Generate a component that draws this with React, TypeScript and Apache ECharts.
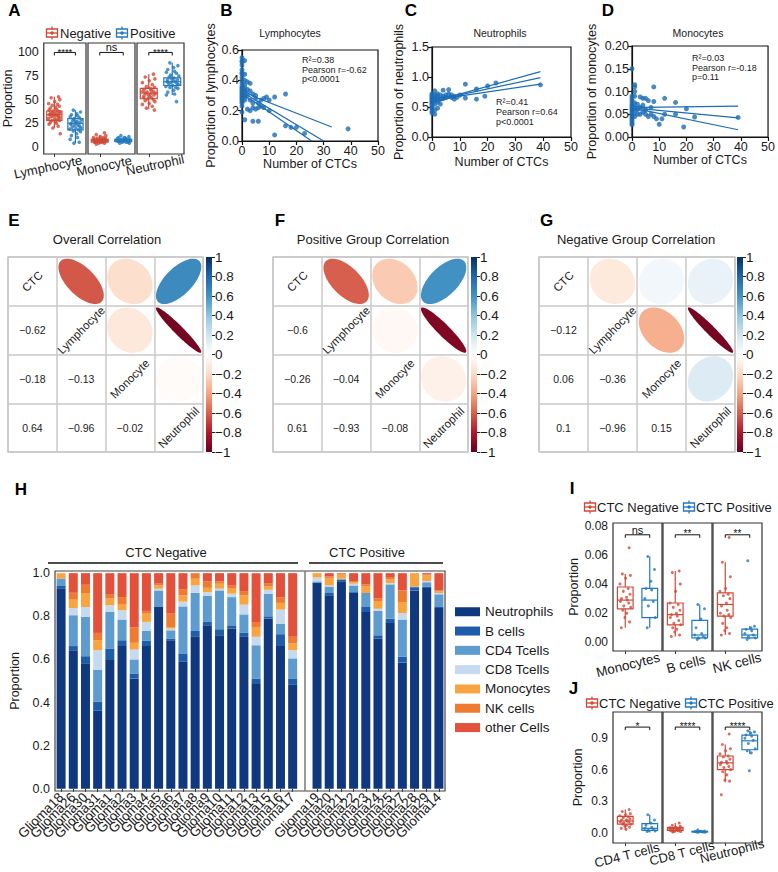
import React, { useEffect, useRef } from "react";
import * as echarts from "echarts";

const FONT = "'Liberation Sans', Arial, Helvetica, sans-serif";
const RED = "#D14836";
const BLUE = "#2279BE";
const DOT = "#1C6DB5";
const INK = "#1a1a1a";

// ---------- Panel A ----------
const A_GROUPS = ["Lymphocyte", "Monocyte", "Neutrophil"];
const A_TICK_STEP = 25;
const A_SIG = ["****", "ns", "****"];
const A_SIG_Y = 100;
const A_STATS_NEG = [[20, 28, 34, 38, 53], [3, 5, 6.5, 8, 12], [40, 51, 57, 62, 77]];
const A_STATS_POS = [[4, 18, 25, 30, 39], [4, 5.5, 7, 8, 11], [55, 65, 69, 73, 89]];
const A_LYM_NEG = [53, 52, 50, 48, 46, 45, 44, 43, 42, 41, 40, 39, 38, 38, 37, 36, 36, 35, 35, 35, 34, 34, 33, 33, 32, 32, 31, 30, 30, 29, 28, 28, 27, 26, 25, 24, 22, 20, 14];
const A_LYM_POS = [39, 37, 35, 34, 33, 32, 31, 30, 29, 28, 27, 27, 26, 25, 25, 24, 23, 23, 22, 21, 20, 20, 19, 18, 17, 16, 14, 12, 10, 8, 5, 4];
const A_MON_NEG = [15, 13, 12, 11, 10, 10, 9, 9, 8, 8, 8, 7, 7, 7, 7, 6, 6, 6, 6, 5, 5, 5, 5, 4, 4, 3];
const A_MON_POS = [12, 11, 10, 10, 9, 9, 8, 8, 8, 7, 7, 7, 6, 6, 6, 6, 5, 5, 5, 4, 4];
const A_NEU_NEG = [77, 74, 72, 70, 68, 66, 64, 63, 62, 61, 60, 59, 59, 58, 57, 57, 56, 55, 55, 54, 53, 52, 52, 51, 50, 49, 48, 46, 45, 43, 41, 39];
const A_NEU_POS = [89, 86, 84, 82, 80, 79, 78, 76, 75, 74, 73, 72, 71, 71, 70, 69, 69, 68, 67, 67, 66, 65, 64, 63, 63, 62, 60, 58, 56, 55, 48];
const A_PTS_NEG = [A_LYM_NEG, A_MON_NEG, A_NEU_NEG];
const A_PTS_POS = [A_LYM_POS, A_MON_POS, A_NEU_POS];

// ---------- Panels B, C, D ----------
const B_POINTS = [[0, 0.55], [0, 0.53], [0, 0.52], [0, 0.5], [0, 0.47], [0, 0.45], [0, 0.44], [0, 0.42], [0, 0.4], [0, 0.38], [0, 0.36], [0, 0.35], [0, 0.34], [0, 0.33], [0, 0.32], [0, 0.31], [0, 0.3], [0, 0.29], [0, 0.28], [0, 0.27], [0, 0.26], [0, 0.25], [0, 0.23], [0, 0.19],
  [1, 0.53], [1, 0.44], [1, 0.4], [1, 0.37], [1, 0.35], [1, 0.33], [1, 0.31], [1, 0.29], [1, 0.27], [1, 0.14], [2, 0.39], [2, 0.34], [2, 0.3], [2, 0.21], [3, 0.38], [3, 0.33], [3, 0.27], [3, 0.2],
  [4, 0.31], [4, 0.25], [4, 0.22], [4, 0.13], [5, 0.3], [5, 0.28], [5, 0.21], [6, 0.25], [6, 0.22], [6, 0.13], [7, 0.27], [7, 0.23], [8, 0.28], [8, 0.22], [9, 0.29], [10, 0.27], [10, 0.2],
  [12, 0.29], [12, 0.04], [16, 0.31], [16, 0.1], [18, 0.09], [20, 0.09], [23, 0.05], [39, 0.08]];
const B_FIT = [[[0, 0.345], [4, 0.295], [33, 0.092]], [[0, 0.323], [4, 0.28], [30, 0]], [[0, 0.3], [4, 0.265], [25.6, 0]]];
const B_STATS = ["R\u00b2=0.38", "Pearson r=-0.62", "p<0.0001"];

const C_POINTS = [[0, 0.4], [0, 0.43], [0, 0.47], [0, 0.5], [0, 0.53], [0, 0.56], [0, 0.58], [0, 0.6], [0, 0.62], [0, 0.64], [0, 0.66], [0, 0.68], [0, 0.7], [0, 0.72],
  [1, 0.38], [1, 0.45], [1, 0.55], [1, 0.62], [1, 0.66], [1, 0.7], [1, 0.77], [2, 0.48], [2, 0.58], [2, 0.64], [2, 0.68], [2, 0.72], [3, 0.55], [3, 0.63], [3, 0.7],
  [4, 0.78], [4, 0.68], [4, 0.64], [5, 0.7], [5, 0.66], [6, 0.79], [6, 0.72], [7, 0.66], [7, 0.7], [8, 0.63], [8, 0.68], [9, 0.66], [10, 0.7],
  [12, 0.88], [12, 0.65], [16, 0.8], [16, 0.63], [19, 0.68], [20, 0.85], [23, 0.9], [39, 0.87]];
const C_FIT = [[[0, 0.63], [8, 0.69], [39, 1.09]], [[0, 0.6], [8, 0.68], [39, 0.99]], [[0, 0.57], [8, 0.67], [39, 0.88]]];
const C_STATS = ["R\u00b2=0.41", "Pearson r=0.64", "p<0.0001"];

const D_POINTS = [[0, 0.15], [0, 0.09], [0, 0.085], [0, 0.08], [0, 0.075], [0, 0.07], [0, 0.066], [0, 0.062], [0, 0.058], [0, 0.055], [0, 0.05], [0, 0.046], [0, 0.042], [0, 0.038], [0, 0.034], [0, 0.03], [0, 0.027],
  [1, 0.115], [1, 0.11], [1, 0.1], [1, 0.09], [1, 0.075], [1, 0.065], [1, 0.055], [1, 0.045], [2, 0.072], [2, 0.06], [2, 0.05], [3, 0.088], [3, 0.065], [3, 0.05],
  [4, 0.085], [4, 0.07], [4, 0.055], [5, 0.085], [5, 0.06], [5, 0.05], [6, 0.08], [6, 0.045], [7, 0.065], [7, 0.05], [8, 0.11], [8, 0.078], [8, 0.045],
  [9, 0.04], [10, 0.028], [11, 0.04], [12, 0.085], [12, 0.05], [16, 0.076], [16, 0.05], [19, 0.022], [20, 0.062], [23, 0.044], [39, 0.043]];
const D_FIT = [[[0, 0.068], [4, 0.065], [39, 0.068]], [[0, 0.064], [4, 0.062], [39, 0.042]], [[0, 0.06], [4, 0.059], [39, 0.016]]];
const D_STATS = ["R\u00b2=0.03", "Pearson r=-0.18", "p=0.11"];

// ---------- Panels E, F, G ----------
const VARS = ["CTC", "Lymphocyte", "Monocyte", "Neutrophil"];
// pair order: CTC-Lym, CTC-Mono, CTC-Neu, Lym-Mono, Lym-Neu, Mono-Neu
const E_R = [-0.62, -0.18, 0.64, -0.13, -0.96, -0.02];
const F_R = [-0.6, -0.26, 0.61, -0.04, -0.93, -0.08];
const G_R = [-0.12, 0.06, 0.1, -0.36, -0.96, 0.15];
const RDBU = [[-1, "#67001F"], [-0.8, "#B2182B"], [-0.6, "#D6604D"], [-0.4, "#F4A582"], [-0.2, "#FDDBC7"], [0, "#FFFFFF"], [0.2, "#D1E5F0"], [0.4, "#92C5DE"], [0.6, "#4393C3"], [0.8, "#2166AC"], [1, "#053061"]] as [number, string][];

// ---------- Panel H ----------
const H_NEG_NAMES = ["Glioma18", "Glioma26", "Glioma30", "Glioma31", "Glioma1", "Glioma2", "Glioma3", "Glioma4", "Glioma5", "Glioma6", "Glioma7", "Glioma8", "Glioma9", "Glioma10", "Glioma11", "Glioma12", "Glioma13", "Glioma15", "Glioma16", "Glioma17"];
const H_POS_NAMES = ["Glioma19", "Glioma20", "Glioma21", "Glioma22", "Glioma23", "Glioma24", "Glioma25", "Glioma27", "Glioma28", "Glioma29", "Glioma14"];
const H_TYPES = ["Neutrophils", "B cells", "CD4 Tcells", "CD8 Tcells", "Monocytes", "NK cells", "other Cells"];
const H_COLORS = ["#10387F", "#1F5DAA", "#5E9CD0", "#C6DAEF", "#F9A440", "#EE7B31", "#E4513B"];
const H_NEUT = [0.93, 0.643, 0.582, 0.362, 0.597, 0.662, 0.512, 0.662, 0.843, 0.689, 0.589, 0.708, 0.758, 0.712, 0.743, 0.708, 0.486, 0.789, 0.662, 0.482, 0.954, 0.897, 0.963, 0.908, 0.82, 0.697, 0.769, 0.585, 0.92, 0.931, 0.838];
const H_BCELL = [0.01, 0.019, 0.033, 0.043, 0.054, 0.027, 0.023, 0.024, 0.003, 0.008, 0.039, 0.024, 0.016, 0.028, 0.015, 0.015, 0.026, 0.011, 0.055, 0.03, 0.003, 0.011, 0.008, 0.004, 0.026, 0.015, 0.02, 0.027, 0.015, 0.007, 0.008];
const H_CD4 = [0.035, 0.143, 0.182, 0.146, 0.169, 0.096, 0.065, 0.046, 0.074, 0.038, 0.218, 0.177, 0.12, 0.18, 0.131, 0.086, 0.154, 0.105, 0.049, 0.093, 0.005, 0.03, 0.001, 0.031, 0.062, 0.113, 0.159, 0.173, 0.003, 0.02, 0.056];
const H_CD8 = [0, 0.033, 0.046, 0.092, 0.031, 0.043, 0.046, 0.042, 0.008, 0.008, 0.022, 0.034, 0.018, 0.008, 0.016, 0.045, 0.039, 0.018, 0.065, 0.038, 0.018, 0.005, 0.002, 0.008, 0, 0.01, 0.006, 0.03, 0, 0.005, 0.006];
const H_MONO = [0.025, 0.039, 0.065, 0.046, 0.031, 0.026, 0.031, 0.038, 0.015, 0.007, 0.029, 0.031, 0.02, 0.023, 0.023, 0.043, 0.045, 0.015, 0.031, 0.031, 0.02, 0.035, 0.023, 0.007, 0.03, 0.036, 0.017, 0.051, 0.062, 0.026, 0.009];
const H_NK = [0, 0.032, 0.038, 0.034, 0.018, 0.035, 0.071, 0.013, 0.008, 0.062, 0.029, 0.026, 0.031, 0.011, 0.014, 0.02, 0.024, 0.016, 0.027, 0.031, 0, 0.007, 0, 0.005, 0.01, 0.011, 0.011, 0.054, 0, 0.005, 0.003];
const H_OTHER = [0, 0.091, 0.054, 0.277, 0.1, 0.111, 0.252, 0.175, 0.049, 0.188, 0.074, 0, 0.037, 0.038, 0.058, 0.083, 0.226, 0.046, 0.111, 0.295, 0, 0.015, 0.003, 0.037, 0.052, 0.118, 0.018, 0.08, 0, 0.006, 0.08];
const H_VALUES = [H_NEUT, H_BCELL, H_CD4, H_CD8, H_MONO, H_NK, H_OTHER];
const H_TICK_STEP = 0.2;

// ---------- Panel I ----------
const I_GROUPS = ["Monocytes", "B cells", "NK cells"];
const I_TICK_STEP = 0.02;
const I_SIG = ["ns", "**", "**"];
const I_SIG_Y = 0.0739;
const I_STATS_NEG = [[0.01, 0.023, 0.029, 0.038, 0.047], [0.004, 0.012, 0.019, 0.027, 0.049], [0.005, 0.018, 0.026, 0.034, 0.055]];
const I_STATS_POS = [[0.01, 0.017, 0.029, 0.037, 0.059], [0.002, 0.003, 0.005, 0.015, 0.026], [0.002, 0.003, 0.005, 0.009, 0.011]];
const I_PTS_NEG = [
  [0.065, 0.047, 0.046, 0.044, 0.04, 0.037, 0.035, 0.033, 0.031, 0.03, 0.029, 0.028, 0.027, 0.025, 0.024, 0.022, 0.02, 0.017, 0.014, 0.01],
  [0.049, 0.048, 0.04, 0.035, 0.027, 0.026, 0.024, 0.022, 0.02, 0.019, 0.018, 0.017, 0.015, 0.013, 0.012, 0.01, 0.009, 0.007, 0.005, 0.004],
  [0.072, 0.055, 0.045, 0.037, 0.035, 0.033, 0.032, 0.03, 0.027, 0.025, 0.022, 0.02, 0.019, 0.018, 0.017, 0.013, 0.01, 0.008, 0.006, 0.005]];
const I_PTS_POS = [
  [0.059, 0.05, 0.042, 0.037, 0.036, 0.03, 0.028, 0.025, 0.017, 0.01],
  [0.026, 0.023, 0.016, 0.01, 0.006, 0.005, 0.004, 0.003, 0.003, 0.002],
  [0.056, 0.011, 0.01, 0.009, 0.008, 0.006, 0.005, 0.004, 0.003, 0.002]];

// ---------- Panel J ----------
const J_GROUPS = ["CD4 T cells", "CD8 T cells", "Neutrophils"];
const J_TICK_STEP = 0.3;
const J_SIG = ["*", "****", "****"];
const J_SIG_Y = 1.006;
const J_STATS_NEG = [[0.03, 0.08, 0.11, 0.155, 0.22], [0, 0.02, 0.035, 0.05, 0.09], [0.48, 0.6, 0.665, 0.73, 0.84]];
const J_STATS_POS = [[0, 0.02, 0.04, 0.085, 0.17], [0, 0.005, 0.008, 0.012, 0.025], [0.75, 0.79, 0.875, 0.93, 0.97]];
const J_PTS_NEG = [
  [0.22, 0.2, 0.18, 0.17, 0.16, 0.15, 0.14, 0.13, 0.12, 0.12, 0.11, 0.1, 0.1, 0.09, 0.08, 0.08, 0.07, 0.06, 0.05, 0.04, 0.03],
  [0.09, 0.07, 0.06, 0.05, 0.045, 0.04, 0.035, 0.03, 0.03, 0.025, 0.02, 0.02, 0.015, 0.01, 0.01, 0.005],
  [0.94, 0.84, 0.8, 0.78, 0.75, 0.73, 0.72, 0.7, 0.68, 0.67, 0.66, 0.65, 0.63, 0.62, 0.6, 0.58, 0.55, 0.5, 0.49, 0.36]];
const J_PTS_POS = [
  [0.17, 0.12, 0.09, 0.07, 0.05, 0.04, 0.03, 0.02, 0.015, 0.01],
  [0.025, 0.015, 0.012, 0.01, 0.008, 0.007, 0.005, 0.004, 0.003, 0.002],
  [0.97, 0.96, 0.95, 0.93, 0.92, 0.9, 0.88, 0.85, 0.8, 0.78, 0.76, 0.59]];

const JIT = [-0.22, 0.12, -0.05, 0.2, -0.15, 0.26, 0.02, -0.27, 0.15, -0.1, 0.24, 0.06, -0.19, 0.1, -0.25, 0.18, -0.07, 0.28, -0.13, 0.08, -0.02, 0.22, -0.2, 0.04];

function hexToRgb(h: string) {
  return [parseInt(h.slice(1, 3), 16), parseInt(h.slice(3, 5), 16), parseInt(h.slice(5, 7), 16)];
}
function rdbu(r: number) {
  for (let k = 0; k < RDBU.length - 1; k++) {
    const [v0, c0] = RDBU[k];
    const [v1, c1] = RDBU[k + 1];
    if (r >= v0 && r <= v1) {
      const t = (r - v0) / (v1 - v0);
      const a = hexToRgb(c0), b = hexToRgb(c1);
      const m = a.map((x, i) => Math.round(x + (b[i] - x) * t));
      return `rgb(${m[0]},${m[1]},${m[2]})`;
    }
  }
  return "#fff";
}
const fmtR = (r: number) => (r < 0 ? "\u2212" : "") + String(Math.abs(r));
// label only the multiples of `step` on a finely-ticked axis
const stepLabel = (step: number, dec: number) => (v: number) => {
  const q = v / step;
  return Math.abs(q - Math.round(q)) < 1e-6 && v > -1e-9 ? (dec < 0 ? String(Math.round(v)) : v.toFixed(dec)) : "";
};

function buildOption() {
  const grid: any[] = [], xAxis: any[] = [], yAxis: any[] = [], series: any[] = [], graphic: any[] = [];
  const push = (arr: any[], v: any) => { arr.push(v); return arr.length - 1; };
  const txt = (x: number, y: number, text: string, o: any = {}) => {
    const align = o.align || "center";
    const va = o.va || "middle";
    graphic.push({
      type: "text", x, y, rotation: o.rot || 0, silent: true,
      style: { text, fontSize: o.fs || 12, fontWeight: o.fw || "normal", fontFamily: FONT, fill: o.color || INK, align, textAlign: align, verticalAlign: va, textVerticalAlign: va },
    });
  };
  const boxGlyph = (cx: number, cy: number, color: string) => {
    const st = { stroke: color, lineWidth: 1.3 };
    graphic.push({
      type: "group", silent: true, children: [
        { type: "rect", shape: { x: cx - 5.5, y: cy - 4, width: 11, height: 8 }, style: { ...st, fill: "#fff" } },
        { type: "line", shape: { x1: cx, y1: cy - 6.5, x2: cx, y2: cy - 4 }, style: st },
        { type: "line", shape: { x1: cx, y1: cy + 4, x2: cx, y2: cy + 6.5 }, style: st },
        { type: "line", shape: { x1: cx - 5.5, y1: cy, x2: cx + 5.5, y2: cy }, style: st },
        { type: "circle", shape: { cx, cy, r: 1.7 }, style: { fill: color } },
      ],
    });
  };

  const boxRender = (hw: number) => (params: any, api: any) => {
    const x = api.value(0);
    const c = api.value(6) === 0 ? RED : BLUE;
    const pMax = api.coord([x, api.value(5)]);
    const pQ3 = api.coord([x, api.value(4)]);
    const pMed = api.coord([x, api.value(3)]);
    const pQ1 = api.coord([x, api.value(2)]);
    const pMin = api.coord([x, api.value(1)]);
    const w = api.size([hw * 2, 0])[0];
    const cx = pMed[0];
    const st = { stroke: c, lineWidth: 1.2, fill: "none" };
    return {
      type: "group", children: [
        { type: "line", shape: { x1: cx, y1: pMax[1], x2: cx, y2: pQ3[1] }, style: st },
        { type: "line", shape: { x1: cx, y1: pQ1[1], x2: cx, y2: pMin[1] }, style: st },
        { type: "rect", shape: { x: cx - w / 2, y: pQ3[1], width: w, height: pQ1[1] - pQ3[1] }, style: { stroke: c, lineWidth: 1.2, fill: "rgba(255,255,255,0.5)" } },
        { type: "line", shape: { x1: cx - w / 2, y1: pMed[1], x2: cx + w / 2, y2: pMed[1] }, style: st },
      ],
    };
  };
  const sigRender = (text: string, fs: number) => (params: any, api: any) => {
    const y = api.value(2);
    const p0 = api.coord([api.value(0), y]);
    const p1 = api.coord([api.value(1), y]);
    const star = text.indexOf("*") >= 0;
    return {
      type: "group", children: [
        { type: "polyline", shape: { points: [[p0[0], p0[1] + 3], [p0[0], p0[1]], [p1[0], p1[1]], [p1[0], p1[1] + 3]] }, style: { stroke: "#111", lineWidth: 1, fill: "none" } },
        { type: "text", x: (p0[0] + p1[0]) / 2, y: p0[1] + (star ? 4 : 0.5), style: { text, fontSize: fs, fill: "#111", fontFamily: FONT, align: "center", textAlign: "center", verticalAlign: "bottom", textVerticalAlign: "bottom" } },
      ],
    };
  };

  function facet(o: any) {
    const gi = push(grid, { left: o.l, top: o.t, width: o.w, height: o.h, show: true, borderColor: "#333", borderWidth: 1.2, backgroundColor: "rgba(0,0,0,0)" });
    const xv = push(xAxis, { type: "value", gridIndex: gi, min: -0.5, max: 1.5, show: false, splitLine: { show: false } });
    push(xAxis, { type: "category", gridIndex: gi, data: ["neg", "pos"], position: "bottom", axisLine: { show: false }, axisTick: { show: true, alignWithLabel: true, length: 3, lineStyle: { color: "#333" } }, axisLabel: { show: false }, splitLine: { show: false } });
    const yi = push(yAxis, {
      type: "value", gridIndex: gi, min: o.yMin, max: o.yMax, interval: o.yInt, axisLine: { show: false }, splitLine: { show: false },
      axisTick: { show: false },
      axisLabel: { show: o.showY, interval: 0, formatter: stepLabel(o.step, o.dec), fontSize: o.tickFs, color: INK, margin: 5, fontFamily: FONT },
      name: o.showY ? "Proportion" : "", nameLocation: "middle", nameGap: o.yNameGap, nameTextStyle: { fontSize: 12.5, color: INK, fontFamily: FONT },
    });
    series.push({ type: "custom", name: `box${gi}`, xAxisIndex: xv, yAxisIndex: yi, silent: true, z: 2, renderItem: boxRender(o.hw), data: [[0, ...o.neg, 0], [1, ...o.pos, 1]] });
    series.push({ type: "scatter", name: `pn${gi}`, xAxisIndex: xv, yAxisIndex: yi, silent: true, z: 3, symbol: "circle", symbolSize: o.ps, itemStyle: { color: RED }, data: o.ptsNeg.map((v: number, i: number) => [JIT[(i + 3) % JIT.length] * o.jw, v]) });
    series.push({ type: "scatter", name: `pp${gi}`, xAxisIndex: xv, yAxisIndex: yi, silent: true, z: 3, symbol: "circle", symbolSize: o.ps, itemStyle: { color: BLUE }, data: o.ptsPos.map((v: number, i: number) => [1 + JIT[(i + 9) % JIT.length] * o.jw, v]) });
    series.push({ type: "custom", name: `sig${gi}`, xAxisIndex: xv, yAxisIndex: yi, silent: true, z: 4, renderItem: sigRender(o.sig, o.sigFs), data: [[0, 1, o.sigY]] });
  }

  function scatterPanel(o: any) {
    const gi = push(grid, { left: o.l, top: o.t, width: o.w, height: o.h, show: true, borderColor: "#111", borderWidth: 1.2, backgroundColor: "rgba(0,0,0,0)" });
    const lineSt = { color: "#111", width: 1.2 };
    const xi = push(xAxis, {
      type: "value", gridIndex: gi, min: 0, max: 50, interval: 10, axisLine: { show: true, lineStyle: lineSt }, axisTick: { show: true, length: 4, lineStyle: lineSt },
      axisLabel: { fontSize: 12.5, color: INK, margin: 3, fontFamily: FONT }, splitLine: { show: false },
      name: "Number of CTCs", nameLocation: "middle", nameGap: o.xGap, nameTextStyle: { fontSize: 12.5, color: INK, fontFamily: FONT },
    });
    const yi = push(yAxis, {
      type: "value", gridIndex: gi, min: 0, max: o.yMax, interval: o.yInt, axisLine: { show: true, lineStyle: lineSt }, axisTick: { show: true, length: 4, lineStyle: lineSt },
      axisLabel: { fontSize: 12.5, color: INK, margin: 3, fontFamily: FONT, formatter: (v: number) => v.toFixed(o.dec) }, splitLine: { show: false },
      name: o.yName, nameLocation: "middle", nameGap: o.yGap, nameTextStyle: { fontSize: 12.5, color: INK, fontFamily: FONT },
    });
    series.push({ type: "scatter", name: `sc${gi}`, xAxisIndex: xi, yAxisIndex: yi, silent: true, symbolSize: 5, itemStyle: { color: DOT }, data: o.pts, z: 3 });
    o.fit.forEach((ln: number[][], k: number) => {
      series.push({ type: "line", name: `fit${gi}_${k}`, xAxisIndex: xi, yAxisIndex: yi, silent: true, showSymbol: false, symbol: "none", lineStyle: { color: DOT, width: 1.2 }, data: ln, z: 4 });
    });
    txt(o.titleX, 33, o.title, { fs: 10.5 });
    o.stats.forEach((s: string, k: number) => txt(o.sx, o.sy[k], s, { fs: 9, align: "left" }));
  }

  function corrPanel(o: any) {
    const gi = push(grid, { left: o.l, top: 257, width: o.size, height: 195, show: true, borderColor: "#c9c9c9", borderWidth: 1.5, backgroundColor: "rgba(0,0,0,0)" });
    const split = { show: true, interval: 0, lineStyle: { color: "#c9c9c9", width: 1.5 } };
    const xi = push(xAxis, { type: "category", gridIndex: gi, data: VARS, axisLine: { show: false }, axisTick: { show: false }, axisLabel: { show: false }, splitLine: split });
    const yi = push(yAxis, { type: "category", gridIndex: gi, data: VARS, inverse: true, axisLine: { show: false }, axisTick: { show: false }, axisLabel: { show: false }, splitLine: split });
    const pairIdx = (a: number, b: number) => {
      const i = Math.min(a, b), j = Math.max(a, b);
      const table: Record<string, number> = { "0-1": 0, "0-2": 1, "0-3": 2, "1-2": 3, "1-3": 4, "2-3": 5 };
      return table[`${i}-${j}`];
    };
    const data: number[][] = [];
    for (let i = 0; i < 4; i++) for (let j = 0; j < 4; j++) data.push([j, i, i === j ? 1 : o.vals[pairIdx(i, j)]]);
    series.push({
      type: "custom", name: `corr${gi}`, xAxisIndex: xi, yAxisIndex: yi, silent: true, data,
      renderItem: (params: any, api: any) => {
        const j = api.value(0), i = api.value(1), r = api.value(2);
        const c = api.coord([j, i]);
        const cw = api.size([1, 1]);
        if (j > i) {
          const s = Math.min(cw[0], cw[1]) * 0.465;
          const d = Math.acos(r);
          const pts: number[][] = [];
          for (let k = 0; k < 90; k++) {
            const t = (k / 90) * 2 * Math.PI;
            pts.push([c[0] + s * Math.cos(t + d / 2), c[1] - s * Math.cos(t - d / 2)]);
          }
          return { type: "polygon", shape: { points: pts }, style: { fill: rdbu(r), stroke: "none" } };
        }
        const diag = j === i;
        const label = diag ? VARS[i] : fmtR(r);
        return {
          type: "text", x: c[0], y: c[1], rotation: diag ? Math.PI / 4 : 0,
          style: { text: label, fontSize: diag ? 11.5 : 10.5, fill: "#222", fontFamily: FONT, align: "center", textAlign: "center", verticalAlign: "middle", textVerticalAlign: "middle" },
        };
      },
    });
    // colour bar
    const cg = push(grid, { left: o.cb, top: 257, width: 6, height: 195 });
    const cx = push(xAxis, { type: "category", gridIndex: cg, data: ["cb"], show: false });
    const cy = push(yAxis, {
      type: "value", gridIndex: cg, min: -1, max: 1, interval: 0.2, position: "right", axisLine: { show: false }, splitLine: { show: false },
      axisTick: { show: true, length: 3, lineStyle: { color: "#222" } },
      axisLabel: { fontSize: 13.5, color: INK, margin: 3, fontFamily: FONT, formatter: (v: number) => { const r = Math.round(v * 10) / 10; return r === 0 ? "0" : fmtR(r); } },
    });
    series.push({
      type: "custom", name: `cbar${gi}`, xAxisIndex: cx, yAxisIndex: cy, silent: true, data: [[0, 0]],
      renderItem: (params: any, api: any) => {
        const top = api.coord([0, 1]);
        const bot = api.coord([0, -1]);
        const cs = params.coordSys;
        const stops = RDBU.map(([v, col]) => ({ offset: (1 - v) / 2, color: col }));
        stops.sort((a, b) => a.offset - b.offset);
        return { type: "rect", shape: { x: cs.x, y: top[1], width: cs.width, height: bot[1] - top[1] }, style: { fill: new echarts.graphic.LinearGradient(0, 0, 0, 1, stops) } };
      },
    });
    txt(o.titleX, 239, o.title, { fs: 13 });
  }

  // ---- Panel A ----
  const aL = [39, 88, 137];
  aL.forEach((l, k) => facet({
    l, t: 43, w: 47, h: 111, yMin: -7.5, yMax: 110, yInt: 2.5, step: A_TICK_STEP, dec: -1, showY: k === 0, yNameGap: 24, tickFs: 12.5,
    neg: A_STATS_NEG[k], pos: A_STATS_POS[k], ptsNeg: A_PTS_NEG[k], ptsPos: A_PTS_POS[k], sig: A_SIG[k], sigY: A_SIG_Y, sigFs: k === 1 ? 11 : 9.5, hw: 0.36, jw: 1.0, ps: 3.6,
  }));
  const aLab = [[48, 167], [104, 166], [155, 165]];
  A_GROUPS.forEach((g, k) => txt(aLab[k][0], aLab[k][1], g, { fs: 13, rot: (12 * Math.PI) / 180 }));
  boxGlyph(52, 33, RED); txt(60, 33, "Negative", { fs: 13, align: "left" });
  boxGlyph(122, 33, BLUE); txt(130, 33, "Positive", { fs: 13, align: "left" });

  // ---- Panels B, C, D ----
  scatterPanel({ l: 242, t: 50, w: 136, h: 91, yMax: 0.6, yInt: 0.2, dec: 1, yName: "Proportion of lymphocytes", yGap: 24, xGap: 14, pts: B_POINTS, fit: B_FIT, title: "Lymphocytes", titleX: 290, stats: B_STATS, sx: 302, sy: [60, 69.5, 79] });
  scatterPanel({ l: 432, t: 47, w: 139, h: 90, yMax: 1.5, yInt: 0.5, dec: 1, yName: "Proportion of neutrophils", yGap: 27, xGap: 18, pts: C_POINTS, fit: C_FIT, title: "Neutrophils", titleX: 500, stats: C_STATS, sx: 496, sy: [102, 112, 122] });
  scatterPanel({ l: 632, t: 46, w: 138, h: 91, yMax: 0.2, yInt: 0.05, dec: 2, yName: "Proportion of monocytes", yGap: 34, xGap: 15, pts: D_POINTS, fit: D_FIT, title: "Monocytes", titleX: 698, stats: D_STATS, sx: 692, sy: [58, 67.5, 77] });

  // ---- Panels E, F, G ----
  corrPanel({ l: 8, size: 195, cb: 206, vals: E_R, title: "Overall Correlation", titleX: 107 });
  corrPanel({ l: 273, size: 195, cb: 471, vals: F_R, title: "Positive Group Correlation", titleX: 373 });
  corrPanel({ l: 539, size: 196, cb: 737, vals: G_R, title: "Negative Group Correlation", titleX: 636 });

  // ---- Panel H ----
  const GAP = 20;
  const hNames = [...H_NEG_NAMES, " ", ...H_POS_NAMES];
  const withGap = (arr: number[]) => [...arr.slice(0, GAP), "-", ...arr.slice(GAP)];
  const hg = push(grid, { left: 46, top: 571, width: 399, height: 220, show: true, borderColor: "#444", borderWidth: 1.2, backgroundColor: "rgba(0,0,0,0)" });
  const hx = push(xAxis, {
    type: "category", gridIndex: hg, data: hNames, axisLine: { show: false },
    axisTick: { show: true, alignWithLabel: true, length: 3, interval: (i: number) => i !== GAP, lineStyle: { color: "#333" } },
    axisLabel: { rotate: 45, interval: 0, fontSize: 13.5, color: INK, margin: 4, fontFamily: FONT },
  });
  const hy = push(yAxis, {
    type: "value", gridIndex: hg, min: -0.01, max: 1.01, interval: 0.01, axisLine: { show: false }, splitLine: { show: false },
    axisTick: { show: false },
    axisLabel: { interval: 0, formatter: stepLabel(H_TICK_STEP, 1), fontSize: 12.5, color: INK, margin: 5, fontFamily: FONT },
    name: "Proportion", nameLocation: "middle", nameGap: 34, nameTextStyle: { fontSize: 12.5, color: INK, fontFamily: FONT },
  });
  H_TYPES.forEach((t, k) => {
    series.push({
      type: "bar", name: t, stack: "h", xAxisIndex: hx, yAxisIndex: hy, barWidth: 9, itemStyle: { color: H_COLORS[k] }, data: withGap(H_VALUES[k]), silent: true,
      markLine: k === 0 ? { silent: true, symbol: "none", label: { show: false }, lineStyle: { color: "#777", width: 1.5, type: "solid" }, data: [{ xAxis: GAP }] } : undefined,
    });
  });
  txt(166, 552, "CTC Negative", { fs: 13 });
  txt(367, 552, "CTC Positive", { fs: 13 });
  graphic.push({ type: "line", silent: true, shape: { x1: 48, y1: 563, x2: 298, y2: 563 }, style: { stroke: "#111", lineWidth: 1.5 } });
  graphic.push({ type: "line", silent: true, shape: { x1: 309, y1: 563, x2: 443, y2: 563 }, style: { stroke: "#111", lineWidth: 1.5 } });

  // ---- Panel I ----
  const iL = [613, 663, 713];
  iL.forEach((l, k) => facet({
    l, t: 523, w: 49, h: 128, yMin: -0.006, yMax: 0.082, yInt: 0.002, step: I_TICK_STEP, dec: 2, showY: k === 0, yNameGap: 33, tickFs: 12,
    neg: I_STATS_NEG[k], pos: I_STATS_POS[k], ptsNeg: I_PTS_NEG[k], ptsPos: I_PTS_POS[k], sig: I_SIG[k], sigY: I_SIG_Y, sigFs: k === 0 ? 11 : 10, hw: 0.32, jw: 0.8, ps: 3,
  }));
  const iLab = [[628, 665], [686, 664], [737, 663]];
  I_GROUPS.forEach((g, k) => txt(iLab[k][0], iLab[k][1], g, { fs: 13.5, rot: (14 * Math.PI) / 180 }));
  boxGlyph(590, 507, RED); txt(597, 507, "CTC Negative", { fs: 13, align: "left" });
  boxGlyph(689, 507, BLUE); txt(696, 507, "CTC Positive", { fs: 13, align: "left" });

  // ---- Panel J ----
  iL.forEach((l, k) => facet({
    l, t: 712, w: 49, h: 131, yMin: -0.1, yMax: 1.15, yInt: 0.05, step: J_TICK_STEP, dec: 1, showY: k === 0, yNameGap: 29, tickFs: 12,
    neg: J_STATS_NEG[k], pos: J_STATS_POS[k], ptsNeg: J_PTS_NEG[k], ptsPos: J_PTS_POS[k], sig: J_SIG[k], sigY: J_SIG_Y, sigFs: 10, hw: 0.32, jw: 0.8, ps: 3,
  }));
  const jLab = [[627, 855], [682, 853], [732, 851]];
  J_GROUPS.forEach((g, k) => txt(jLab[k][0], jLab[k][1], g, { fs: 13, rot: (14 * Math.PI) / 180 }));
  boxGlyph(592, 703, RED); txt(599, 703, "CTC Negative", { fs: 13, align: "left" });
  boxGlyph(691, 703, BLUE); txt(698, 703, "CTC Positive", { fs: 13, align: "left" });

  // ---- panel letters ----
  const letters: [string, number, number][] = [["A", 14.5, 10.5], ["B", 226.5, 10.5], ["C", 411, 10.5], ["D", 608, 10.5], ["E", 14, 220.5], ["F", 280, 220.5], ["G", 546.5, 220.5], ["H", 21, 489], ["I", 572, 488], ["J", 573.5, 688]];
  letters.forEach(([t, x, y]) => txt(x, y, t, { fs: 17, fw: "bold", color: "#000" }));

  return {
    animation: false,
    backgroundColor: "#fff",
    textStyle: { fontFamily: FONT },
    legend: {
      data: H_TYPES, orient: "vertical", left: 450, top: 599, itemWidth: 25, itemHeight: 9, itemGap: 3.8, icon: "rect", selectedMode: false,
      textStyle: { fontSize: 13.5, color: INK, fontFamily: FONT, lineHeight: 15.5 },
    },
    grid, xAxis, yAxis, series, graphic,
  };
}

export default function App() {
  const ref = useRef<HTMLDivElement>(null);
  useEffect(() => {
    const chart = echarts.init(ref.current as HTMLDivElement, null, { renderer: "svg" });
    chart.setOption(buildOption() as any);
    return () => chart.dispose();
  }, []);
  return <div ref={ref} style={{ position: "absolute", left: 0, top: 0, width: 778, height: 872, background: "#fff" }} />;
}
